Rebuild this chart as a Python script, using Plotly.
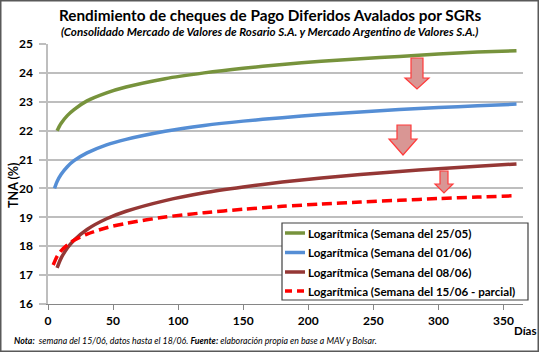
import plotly.graph_objects as go

# ---- data (logarithmic trend curves) ----
dias_2505 = [7, 10, 15, 20, 30, 45, 60, 90, 120, 150, 180, 210, 240, 270, 300, 330, 360]
tna_2505 = [22.00, 22.25, 22.53, 22.73, 23.03, 23.31, 23.51, 23.80, 24.00, 24.16, 24.29, 24.40, 24.49, 24.57, 24.65, 24.72, 24.77]

dias_0106 = [5, 7, 10, 15, 20, 30, 45, 60, 90, 120, 150, 180, 210, 240, 270, 300, 330, 360]
tna_0106 = [20.00, 20.24, 20.48, 20.76, 20.96, 21.23, 21.51, 21.70, 21.98, 22.18, 22.33, 22.45, 22.56, 22.65, 22.73, 22.80, 22.86, 22.92]

dias_0806 = [7, 10, 15, 20, 30, 45, 60, 90, 120, 150, 180, 210, 240, 270, 300, 330, 360]
tna_0806 = [17.25, 17.58, 17.95, 18.21, 18.58, 18.95, 19.21, 19.58, 19.85, 20.05, 20.22, 20.36, 20.48, 20.59, 20.68, 20.77, 20.85]

dias_1506 = [4, 7, 10, 15, 20, 30, 45, 60, 90, 120, 150, 180, 210, 240, 270, 300, 330, 360]
tna_1506 = [17.35, 17.65, 17.84, 18.05, 18.21, 18.42, 18.64, 18.79, 19.01, 19.16, 19.28, 19.38, 19.46, 19.53, 19.59, 19.65, 19.70, 19.75]

series_names = [
    "Logarítmica (Semana del 25/05)",
    "Logarítmica (Semana del 01/06)",
    "Logarítmica (Semana del 08/06)",
    "Logarítmica (Semana del 15/06 - parcial)",
]
series_x = [dias_2505, dias_0106, dias_0806, dias_1506]
series_y = [tna_2505, tna_0106, tna_0806, tna_1506]
colors = ["#77933C", "#558ED5", "#953735", "#FF0000"]
dashes = ["solid", "solid", "solid", "10px,5px"]

x_ticks = [0, 50, 100, 150, 200, 250, 300, 350]
y_ticks = [16, 17, 18, 19, 20, 21, 22, 23, 24, 25]

title_text = "Rendimiento de cheques de Pago Diferidos Avalados por SGRs"
subtitle_text = "(Consolidado Mercado de Valores de Rosario S.A. y Mercado Argentino de Valores S.A.)"
y_title = "TNA (%)"
x_title = "Días"
note_text = ("<b>Nota:</b>  semana del 15/06, datos hasta el 18/06. "
             "<b>Fuente:</b> elaboración propia en base a MAV y Bolsar.")

# ---- layout geometry (pixels) ----
W, H = 539, 352
L, R, T, B = 48, 16, 44, 48
PW, PH = W - L - R, H - T - B
FONT = "Lato"


def px(xp):
    return (xp - L) / PW


def py(yp):
    return (H - B - yp) / PH


fig = go.Figure()
for name, xs, ys, c, d in zip(series_names, series_x, series_y, colors, dashes):
    fig.add_trace(go.Scatter(
        x=xs, y=ys, mode="lines", name=name,
        line=dict(color=c, width=3.5, dash=d, shape="spline", smoothing=0.8),
        showlegend=False,
    ))

shapes = []
annotations = []

# outer chart border
shapes.append(dict(type="rect", xref="paper", yref="paper",
                   x0=px(0.75), x1=px(W - 0.75), y0=py(H - 0.75), y1=py(0.75),
                   line=dict(color="#595959", width=1.5), layer="above"))

# down arrows (decorations) in pixel coords
def arrow(x0, x1, sx0, sx1, ytop, ybase, ytip):
    p = (f"M{px(sx0)},{py(ytop)} L{px(sx1)},{py(ytop)} L{px(sx1)},{py(ybase)} "
         f"L{px(x1)},{py(ybase)} L{px((x0 + x1) / 2)},{py(ytip)} L{px(x0)},{py(ybase)} "
         f"L{px(sx0)},{py(ybase)} Z")
    return dict(type="path", xref="paper", yref="paper", path=p,
                fillcolor="#D99694", line=dict(color="#FF3B3B", width=1.2), layer="above")

shapes.append(arrow(405, 429, 411, 423, 58, 78, 89))
shapes.append(arrow(389, 417, 397, 411, 125, 139, 155))
shapes.append(arrow(435, 453, 440, 448, 171, 184, 193))

# manual legend
shapes.append(dict(type="rect", xref="paper", yref="paper",
                   x0=px(282), x1=px(528), y0=py(300), y1=py(223),
                   fillcolor="white", line=dict(color="#404040", width=1.2), layer="above"))
rows = [233, 252.5, 272, 291]
for name, c, d, yr in zip(series_names, colors, dashes, rows):
    shapes.append(dict(type="line", xref="paper", yref="paper",
                       x0=px(285), x1=px(305), y0=py(yr), y1=py(yr),
                       line=dict(color=c, width=3.5, dash=("7px,5px" if d != "solid" else "solid")),
                       layer="above"))
    annotations.append(dict(xref="paper", yref="paper", x=px(306), y=py(yr),
                            xanchor="left", yanchor="middle", showarrow=False,
                            text=f"<b>{name}</b>",
                            font=dict(family=FONT, size=11.6, color="black")))

# titles
annotations.append(dict(xref="paper", yref="paper", x=px(270), y=py(15),
                        xanchor="center", yanchor="middle", showarrow=False,
                        text=f"<b>{title_text}</b>",
                        font=dict(family=FONT, size=15.3, color="black")))
annotations.append(dict(xref="paper", yref="paper", x=px(269), y=py(32),
                        xanchor="center", yanchor="middle", showarrow=False,
                        text=f"<b><i>{subtitle_text}</i></b>",
                        font=dict(family=FONT, size=11.6, color="black")))
annotations.append(dict(xref="paper", yref="paper", x=px(525), y=py(330),
                        xanchor="center", yanchor="middle", showarrow=False,
                        text=f"<b>{x_title}</b>",
                        font=dict(family=FONT, size=11.5, color="black")))
annotations.append(dict(xref="paper", yref="paper", x=px(13), y=py(185),
                        xanchor="center", yanchor="middle", showarrow=False,
                        text=f"<b>{y_title}</b>", textangle=-90,
                        font=dict(family=FONT, size=12.5, color="black")))
annotations.append(dict(xref="paper", yref="paper", x=px(12), y=py(340),
                        xanchor="left", yanchor="middle", showarrow=False,
                        text=f"<i>{note_text}</i>",
                        font=dict(family=FONT, size=8.8, color="black")))

fig.update_layout(
    width=W, height=H,
    margin=dict(l=L, r=R, t=T, b=B, pad=0),
    paper_bgcolor="white", plot_bgcolor="white",
    font=dict(family=FONT, color="black"),
    shapes=shapes, annotations=annotations,
    showlegend=False,
)
fig.update_xaxes(
    range=[0, 365], tickvals=x_ticks, ticktext=[f"<b>{v}</b>" for v in x_ticks],
    showgrid=False, zeroline=False,
    showline=True, linecolor="#868686", linewidth=1.2,
    ticks="outside", ticklen=5, tickcolor="#868686", tickwidth=1,
    tickfont=dict(family=FONT, size=12, color="black"),
)
fig.update_yaxes(
    range=[16, 25], tickvals=y_ticks, ticktext=[f"<b>{v}</b>" for v in y_ticks],
    showgrid=True, gridcolor="#BEBEBE", gridwidth=1.5, zeroline=False,
    showline=True, linecolor="#BEBEBE", linewidth=1.5,
    ticks="outside", ticklen=7, tickcolor="#BEBEBE", tickwidth=1.5,
    ticklabelstandoff=4,
    tickfont=dict(family=FONT, size=12, color="black"),
)

fig.write_html("out.html")
